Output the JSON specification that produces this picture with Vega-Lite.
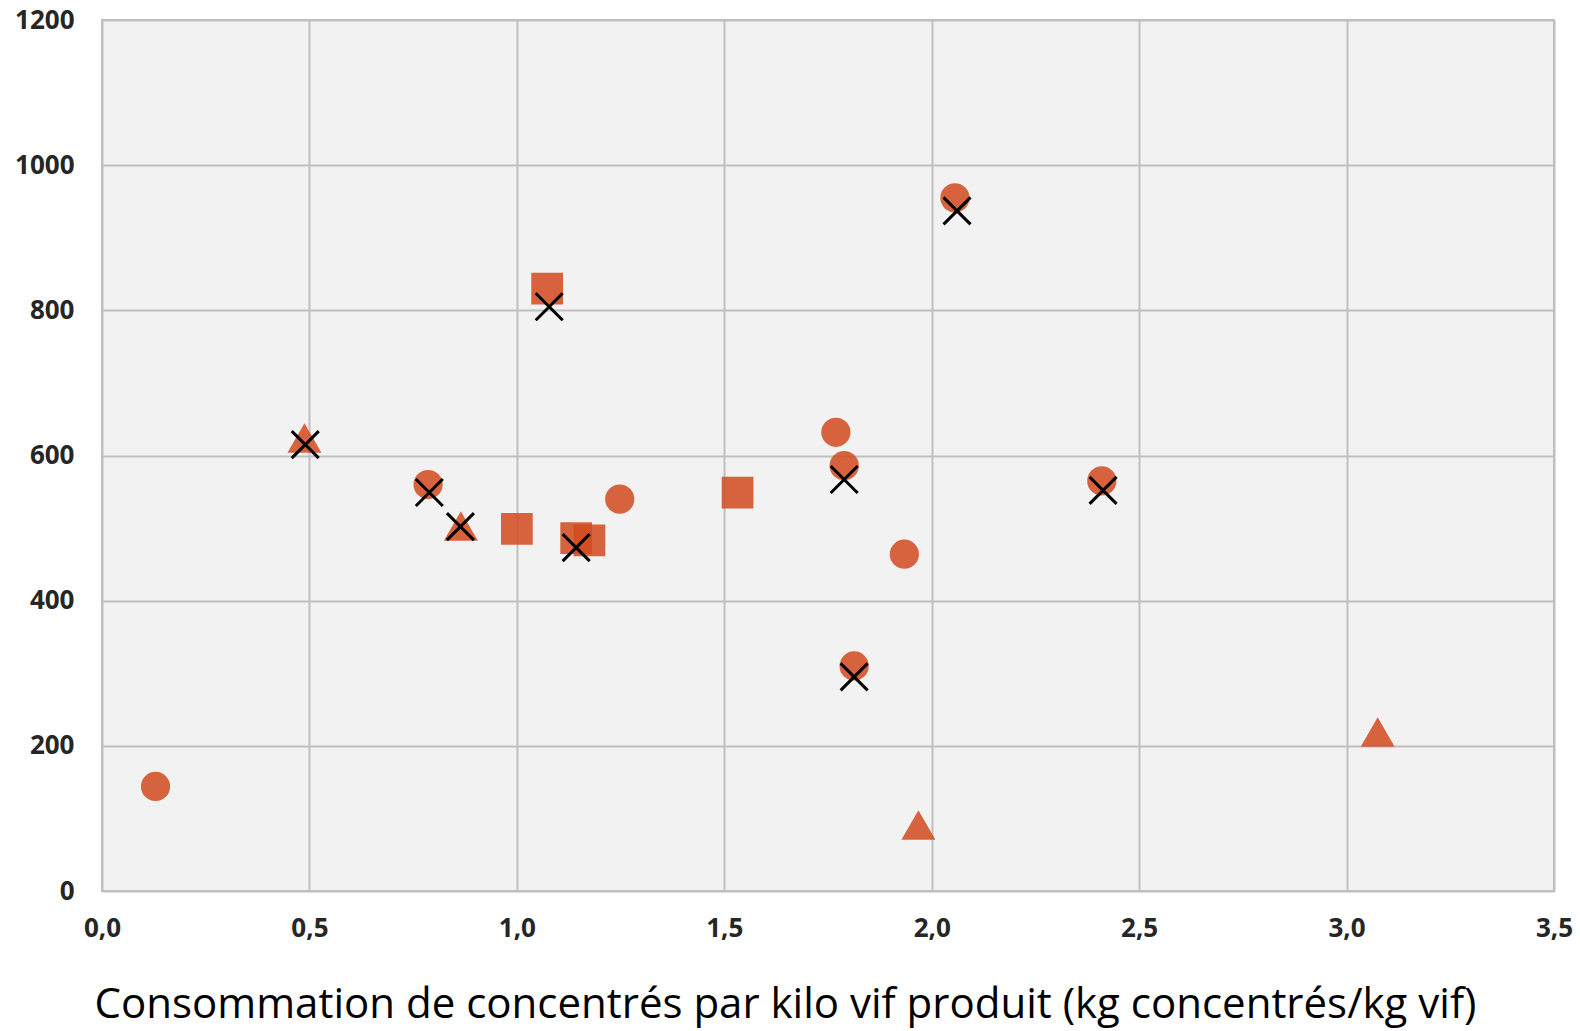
{
  "$schema": "https://vega.github.io/schema/vega-lite/v6.json",
  "autosize": {"type": "none"},
  "padding": {"left": 102, "top": 20, "right": 26, "bottom": 140},
  "width": 1452,
  "height": 871,
  "background": "white",
  "config": {
    "view": {"fill": "#f2f2f2", "stroke": "#bfbfbf", "strokeWidth": 2},
    "axis": {
      "grid": true, "gridColor": "#bfbfbf", "gridWidth": 2,
      "domain": false, "ticks": false,
      "labelFont": "Open Sans", "labelFontWeight": 700, "labelFontSize": 26, "labelColor": "#262626"
    }
  },
  "datasets": {
    "points": [
      {"conso": 0.129, "valeur": 144, "groupe": "rond"},
      {"conso": 0.786, "valeur": 560, "groupe": "rond"},
      {"conso": 1.248, "valeur": 540, "groupe": "rond"},
      {"conso": 1.769, "valeur": 632, "groupe": "rond"},
      {"conso": 1.789, "valeur": 586, "groupe": "rond"},
      {"conso": 1.934, "valeur": 464, "groupe": "rond"},
      {"conso": 1.813, "valeur": 310, "groupe": "rond"},
      {"conso": 2.056, "valeur": 955, "groupe": "rond"},
      {"conso": 2.410, "valeur": 565, "groupe": "rond"},
      {"conso": 1.073, "valeur": 830, "groupe": "carre"},
      {"conso": 1.000, "valeur": 499, "groupe": "carre"},
      {"conso": 1.143, "valeur": 486, "groupe": "carre"},
      {"conso": 1.175, "valeur": 483, "groupe": "carre"},
      {"conso": 1.532, "valeur": 549, "groupe": "carre"},
      {"conso": 0.488, "valeur": 624, "groupe": "triangle"},
      {"conso": 0.865, "valeur": 503, "groupe": "triangle"},
      {"conso": 1.968, "valeur": 91, "groupe": "triangle"},
      {"conso": 3.075, "valeur": 219, "groupe": "triangle"}
    ],
    "croix": [
      {"conso": 0.490, "valeur": 615},
      {"conso": 0.789, "valeur": 549},
      {"conso": 0.864, "valeur": 502},
      {"conso": 1.078, "valeur": 805},
      {"conso": 1.143, "valeur": 473},
      {"conso": 1.789, "valeur": 567},
      {"conso": 1.813, "valeur": 295},
      {"conso": 2.061, "valeur": 937},
      {"conso": 2.413, "valeur": 552}
    ]
  },
  "layer": [
    {
      "data": {"name": "points"},
      "mark": {"type": "point", "filled": true, "color": "#D24A1E", "opacity": 0.85},
      "encoding": {
        "x": {
          "field": "conso", "type": "quantitative",
          "scale": {"domain": [0, 3.5], "nice": false, "zero": true},
          "axis": {
            "values": [0, 0.5, 1, 1.5, 2, 2.5, 3, 3.5],
            "labelExpr": "replace(format(datum.value, '.1f'), '.', ',')",
            "labelPadding": 24,
            "labelFlush": false,
            "title": "Consommation de concentrés par kilo vif produit (kg concentrés/kg vif)",
            "titleFont": "Open Sans", "titleFontWeight": "normal", "titleFontSize": 42, "titleColor": "#000000",
            "titleX": 683, "titleY": 126, "titleAlign": "center", "titleBaseline": "alphabetic", "titleAnchor": "middle"
          }
        },
        "y": {
          "field": "valeur", "type": "quantitative",
          "scale": {"domain": [0, 1200], "nice": false},
          "axis": {"values": [0, 200, 400, 600, 800, 1000, 1200], "format": "d", "labelPadding": 28, "title": null}
        },
        "shape": {
          "field": "groupe", "type": "nominal",
          "scale": {"domain": ["rond", "carre", "triangle"], "range": ["circle", "square", "triangle-up"]},
          "legend": null
        },
        "size": {
          "field": "groupe", "type": "nominal",
          "scale": {"domain": ["rond", "carre", "triangle"], "range": [855, 1160, 1024]},
          "legend": null
        }
      }
    },
    {
      "data": {"name": "croix"},
      "mark": {"type": "point", "filled": false, "shape": "M-1,-1L1,1M-1,1L1,-1", "size": 729, "color": "#000000", "strokeWidth": 3, "opacity": 1},
      "encoding": {
        "x": {"field": "conso", "type": "quantitative"},
        "y": {"field": "valeur", "type": "quantitative"}
      }
    }
  ]
}
